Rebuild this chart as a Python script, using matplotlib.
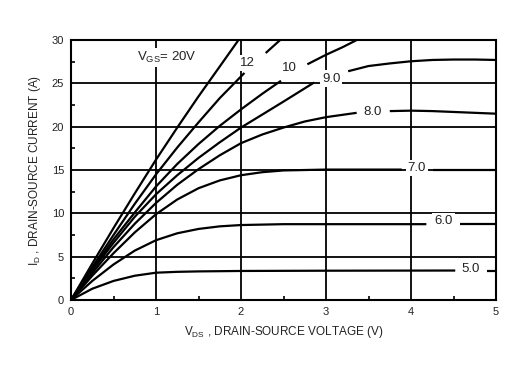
import matplotlib
matplotlib.use("Agg")
import matplotlib.pyplot as plt
import numpy as np

plt.rcParams['font.family'] = ['Liberation Sans', 'DejaVu Sans']
plt.rcParams['mathtext.fontset'] = 'custom'
plt.rcParams['mathtext.rm'] = 'Liberation Sans'
plt.rcParams['mathtext.it'] = 'Liberation Sans'

# drain-source voltage (V) / drain current (A), one pair per gate voltage
v_20 = [0, 0.25, 0.5, 0.75, 1.0, 1.25, 1.5, 1.75, 1.97]
i_20 = [0, 4.2, 8.3, 12.3, 16.2, 19.9, 23.5, 26.95, 30]

v_12 = [0, 0.25, 0.5, 0.75, 1.0, 1.25, 1.5, 1.75, 2.04, 2.29, 2.46]
i_12 = [0, 3.8, 7.5, 11.1, 14.5, 17.6, 20.5, 23.3, 26.2, 28.5, 30]

v_10 = [0, 0.25, 0.5, 0.75, 1.0, 1.25, 1.5, 1.75, 2.0, 2.25, 2.47, 2.78, 3.0, 3.2, 3.36]
i_10 = [0, 3.6, 7.0, 10.1, 13.1, 15.7, 18.0, 20.1, 22.0, 23.8, 25.3, 27.2, 28.3, 29.2, 30]

v_9 = [0, 0.25, 0.5, 0.75, 1.0, 1.25, 1.5, 1.75, 2.0, 2.25, 2.5, 2.86, 3.26, 3.5, 3.75, 4.0, 4.25, 4.5, 4.75, 5.0]
i_9 = [0, 3.4, 6.6, 9.6, 12.2, 14.4, 16.4, 18.2, 19.9, 21.4, 22.9, 25.1, 26.4, 27.0, 27.3, 27.55, 27.7, 27.75, 27.75, 27.7]

v_8 = [0, 0.25, 0.5, 0.75, 1.0, 1.25, 1.5, 1.75, 2.0, 2.25, 2.5, 2.75, 3.0, 3.36, 3.75, 4.0, 4.25, 4.5, 4.75, 5.0]
i_8 = [0, 3.1, 6.1, 8.8, 11.2, 13.3, 15.1, 16.7, 18.1, 19.1, 19.9, 20.6, 21.1, 21.6, 21.8, 21.85, 21.8, 21.7, 21.6, 21.5]

v_7 = [0, 0.25, 0.5, 0.75, 1.0, 1.25, 1.5, 1.75, 2.0, 2.25, 2.5, 2.75, 3.0, 3.89, 4.26, 5.0]
i_7 = [0, 2.8, 5.4, 7.8, 9.9, 11.6, 12.9, 13.8, 14.4, 14.75, 14.95, 15.0, 15.05, 15.05, 15.05, 15.05]

v_6 = [0, 0.25, 0.5, 0.75, 1.0, 1.25, 1.5, 1.75, 2.0, 2.5, 3.0, 4.18, 4.58, 5.0]
i_6 = [0, 2.2, 4.1, 5.7, 6.9, 7.7, 8.2, 8.5, 8.65, 8.75, 8.75, 8.75, 8.75, 8.75]

v_5 = [0, 0.25, 0.5, 0.75, 1.0, 1.25, 1.5, 2.0, 3.0, 4.52, 4.89, 5.0]
i_5 = [0, 1.3, 2.2, 2.8, 3.15, 3.25, 3.3, 3.35, 3.38, 3.4, 3.4, 3.4]

curves = [(v_20, i_20), (v_12, i_12), (v_10, i_10), (v_9, i_9),
          (v_8, i_8), (v_7, i_7), (v_6, i_6), (v_5, i_5)]
# where each curve is broken for its label
gaps = [None, (2.04, 2.29), (2.47, 2.78), (2.86, 3.26),
        (3.36, 3.75), (3.89, 4.26), (4.18, 4.58), (4.52, 4.89)]
labels = ['', '12', '10', '9.0', '8.0', '7.0', '6.0', '5.0']
label_pos = [None, (2.08, 27.35), (2.57, 26.75), (3.06, 25.55),
             (3.55, 21.7), (4.07, 15.2), (4.38, 9.15), (4.705, 3.58)]

fig = plt.figure(figsize=(5.28, 3.69), dpi=100)
ax = fig.add_axes([0.1345, 0.187, 0.805, 0.7045])

box = dict(facecolor='white', edgecolor='none', pad=1.5)
for (v, i), gap, lab, pos in zip(curves, gaps, labels, label_pos):
    v = np.array(v)
    i = np.array(i)
    if gap is None:
        ax.plot(v, i, color='black', lw=1.6, solid_capstyle='butt')
    else:
        m1 = v <= gap[0]
        m2 = v >= gap[1]
        ax.plot(v[m1], i[m1], color='black', lw=1.6, solid_capstyle='butt')
        ax.plot(v[m2], i[m2], color='black', lw=1.6, solid_capstyle='butt')
    if lab:
        ax.text(pos[0], pos[1], lab, fontsize=9.5, ha='center', va='center',
                color='#222222', bbox=box, zorder=5)

ax.text(0.78, 28.0, r'V$_{\rm GS}$= 20V', fontsize=9.5, ha='left', va='center',
        color='#222222', bbox=box, zorder=5)

ax.set_xlim(0, 5)
ax.set_ylim(0, 30)
ax.set_xticks(np.arange(0, 6, 1))
ax.set_yticks(np.arange(0, 31, 5))
ax.set_xticks(np.arange(0, 5.01, 0.5), minor=True)
ax.set_yticks(np.arange(0, 30.01, 2.5), minor=True)
ax.grid(True, which='major', color='black', lw=1.3)
ax.tick_params(which='major', length=0, labelsize=8, pad=5, colors='#222222')
ax.tick_params(which='minor', direction='in', length=3, width=1.2, color='black')
for s in ax.spines.values():
    s.set_linewidth(1.5)
    s.set_color('black')

ax.set_xlabel(r'V$_{\rm DS}$ , DRAIN-SOURCE VOLTAGE (V)', fontsize=8.5, color='#222222', labelpad=5)
ax.set_ylabel(r'I$_{\rm D}$ , DRAIN-SOURCE CURRENT (A)', fontsize=8.5, color='#222222', labelpad=6)

fig.savefig('out.png', dpi=100)
